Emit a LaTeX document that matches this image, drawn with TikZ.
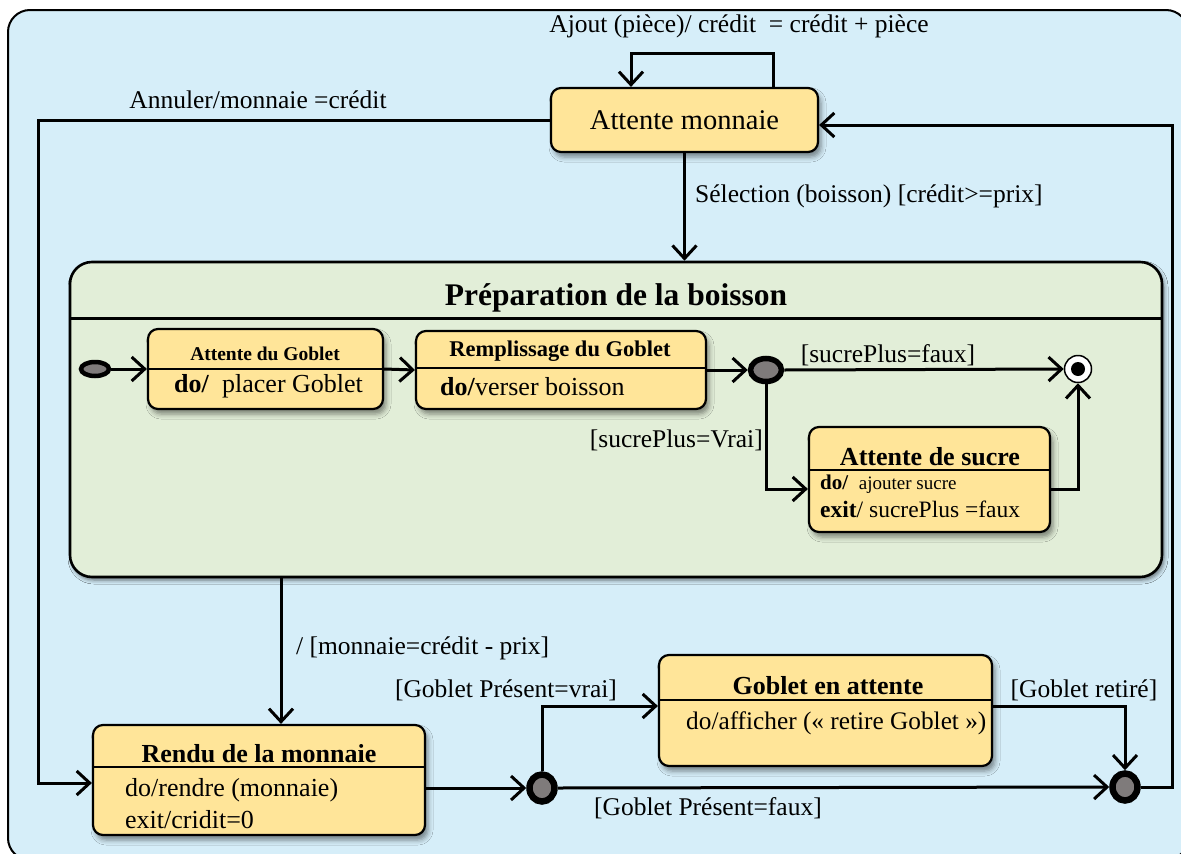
\documentclass[tikz,border=0pt]{standalone}
\usepackage{fontspec}
\setmainfont{Liberation Serif}
\usetikzlibrary{arrows.meta,shapes.geometric,shadows.blur}
\definecolor{bgblue}{HTML}{D6EEF9}
\definecolor{prepgreen}{HTML}{E2EED8}
\definecolor{stfill}{HTML}{FFE599}
\definecolor{pseudogray}{HTML}{7F7B7B}
\newcommand\fsz[1]{\fontsize{#1}{#1}\selectfont}

\begin{document}
\begin{tikzpicture}[x=1pt,y=-1pt,
  state/.style={draw, line width=2.2pt, rounded corners=10pt, fill=stfill, inner sep=0pt,
    blur shadow={shadow xshift=3pt, shadow yshift=-5pt, shadow blur radius=5pt, shadow opacity=45}},
  trans/.style={line width=3pt, -{Straight Barb[length=13pt,width=24pt]}},
  sep/.style={line width=2pt},
  lbl/.style={font=\fsz{25.5}, inner sep=0pt},
  ttl/.style={font=\bfseries\fsz{26}, inner sep=0pt},
  body/.style={font=\fsz{26}, inner sep=0pt, anchor=west},
  pseudo/.style={ellipse, draw, fill=pseudogray, inner sep=0pt},
]
\useasboundingbox (0,0) rectangle (1181,854);
\clip (0,0) rectangle (1181,854);

% outer frame
\draw[line width=2pt, fill=bgblue, rounded corners=22pt] (8,10) rectangle (1188,860);

% top state
\node[state, minimum width=267pt, minimum height=64pt, font=\fsz{28.5}] (wait) at (684.5,120) {Attente monnaie};

% composite state
\node[state, fill=prepgreen, rounded corners=22pt, line width=2.6pt, minimum width=1092pt, minimum height=315pt,
  blur shadow={shadow xshift=2pt, shadow yshift=-3pt, shadow blur radius=4pt, shadow opacity=30}] (prep) at (616,419.5) {};
\node[font=\bfseries\fsz{31.5}, inner sep=0pt] (prepT) at (616,298) {Préparation de la boisson};
\draw[line width=3pt] (70,318) -- (1162,318);

% initial pseudo state
\node[pseudo, line width=4.5pt, minimum width=28pt, minimum height=14pt] (i0) at (95,369) {};

% Attente du Goblet
\node[state, minimum width=235pt, minimum height=80pt] (gobA) at (265.5,369) {};
\node[ttl, font=\bfseries\fsz{19.5}] (gobAT) at (265,354) {Attente du Goblet};
\draw[sep] (gobA.west) -- (gobA.east);
\node[body] (gobAB) at (174,386) {\textbf{do/}\enspace placer Goblet};

% Remplissage du Goblet
\node[state, minimum width=290pt, minimum height=78pt] (rempl) at (561,370) {};
\node[ttl, font=\bfseries\fsz{22.5}] (remplT) at (560,351) {Remplissage du Goblet};
\draw[sep] (416,368) -- (706,368);
\node[body] (remplB) at (440,387) {\textbf{do/}verser boisson};

% choice after filling
\node[pseudo, line width=5.5pt, minimum width=31pt, minimum height=23pt] (c1) at (766,370) {};

% final state
\node[circle, draw, line width=1.5pt, fill=white, minimum size=27pt, inner sep=0pt] (fin) at (1078,369) {};
\node[circle, fill=black, minimum size=14pt, inner sep=0pt] (finD) at (fin) {};

% Attente de sucre
\node[state, minimum width=241pt, minimum height=105pt] (sucre) at (929.5,479.5) {};
\node[ttl] (sucreT) at (930,457) {Attente de sucre};
\draw[sep] (sucre.west |- 0,470) -- (sucre.east |- 0,470);
\node[body] (sucreB1) at (820,484) {\fsz{21}\textbf{do/}\enspace\fsz{19}ajouter sucre};
\node[body] (sucreB2) at (820,509) {\fsz{23.5}\textbf{exit}/ sucrePlus =faux};

% Rendu de la monnaie
\node[state, minimum width=332pt, minimum height=110pt] (rendu) at (259,780) {};
\node[ttl] (renduT) at (259,754) {Rendu de la monnaie};
\draw[sep] (rendu.west |- 0,767) -- (rendu.east |- 0,767);
\node[body] (renduB1) at (125,790) {do/rendre (monnaie)};
\node[body] (renduB2) at (125,820) {exit/cridit=0};

% Goblet en attente
\node[state, minimum width=333pt, minimum height=111pt] (gwait) at (825.5,710.5) {};
\node[ttl] (gwaitT) at (828,686) {Goblet en attente};
\draw[sep] (gwait.west |- 0,700) -- (gwait.east |- 0,700);
\node[body, font=\fsz{25.3}] (gwaitB) at (686,723) {do/afficher («~retire Goblet~»)};

% junctions
\node[pseudo, line width=6.5pt, minimum width=25pt, minimum height=27pt] (c2) at (542,788) {};
\node[pseudo, line width=6.5pt, minimum width=25pt, minimum height=27pt] (j2) at (1125,787) {};

% rails
\coordinate (lr) at (38,0);
\coordinate (rr) at (1172,0);
\coordinate (dn) at (281,0);

% transitions
\draw[trans] ([xshift=88.5pt]wait.north) -- ++(0,-33) -| ([xshift=-53.5pt]wait.north);
\draw[trans] (wait.west) -- (wait.west -| lr) |- ([yshift=-3pt]rendu.west);
\draw[trans] (j2.east) -- (j2.east -| rr) |- ([yshift=-5pt]wait.east);
\draw[trans] (wait.south) -- (wait.south |- prep.north);
\draw[trans] (i0.east) -- (gobA.west);
\draw[trans] (gobA.east) -- (rempl.west);
\draw[trans] (rempl.east) -- (c1.west);
\draw[trans] (c1.east) -- (fin.west);
\draw[trans] (c1.south) |- ([yshift=-9.5pt]sucre.west);
\draw[trans] ([yshift=-9.5pt]sucre.east) -| (fin.south);
\draw[trans] (prep.south -| dn) -- (rendu.north -| dn);
\draw[trans] ([yshift=-8pt]rendu.east) -- (c2.west);
\draw[trans] (c2.north) |- ([yshift=4.5pt]gwait.west);
\draw[trans] ([yshift=4.5pt]gwait.east) -| (j2.north);
\draw[trans] (c2.east) -- (j2.west);

% labels
\node[lbl] (lAj) at (739,26) {Ajout (pièce)/ crédit\enspace = crédit + pièce};
\node[lbl] (lA) at (258,100) {Annuler/monnaie =crédit};
\node[lbl, anchor=west] (lS) at (695,196) {Sélection (boisson) [crédit>=prix]};
\node[lbl] (lF) at (888,355) {[sucrePlus=faux]};
\node[lbl, anchor=east] (lV) at (763,440) {[sucrePlus=Vrai]};
\node[lbl, anchor=west] (lM) at (296,648) {/ [monnaie=crédit - prix]};
\node[lbl] (lPv) at (506,690) {[Goblet Présent=vrai]};
\node[lbl] (lPf) at (708,808) {[Goblet Présent=faux]};
\node[lbl] (lR) at (1084,690) {[Goblet retiré]};
\end{tikzpicture}
\end{document}
